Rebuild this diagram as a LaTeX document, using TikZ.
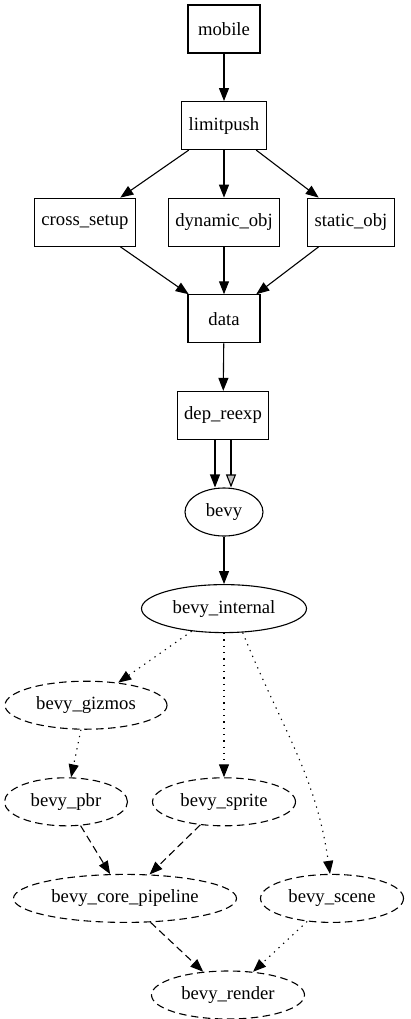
\documentclass[tikz,border=0pt]{standalone}
\usepackage{fontspec}
\setmainfont{Liberation Serif}
\usepackage{tikz}
\usetikzlibrary{shapes.geometric,arrows.meta,positioning}

\begin{document}
\begin{tikzpicture}[
  x=1pt,y=-1pt,
  font=\fontsize{18.67}{22}\selectfont,
  box/.style={draw,line width=1.1pt,minimum width=72pt,minimum height=48pt,inner xsep=7pt},
  crate/.style={draw,ellipse,line width=1.1pt,minimum height=48pt,inner xsep=0pt},
  optcrate/.style={crate,dash pattern=on 7.5pt off 4.5pt},
  arr/.style={line width=1.1pt,-{Triangle[length=13pt,width=10pt]}},
  arrre/.style={line width=1.1pt,-{Triangle[length=13pt,width=10pt,fill=lightgray]}},
  dep/.style={arr,dash pattern=on 7.5pt off 4.5pt},
  optdep/.style={arr,dash pattern=on 1.3pt off 5pt},
  node distance=47.5pt
]
\useasboundingbox (0,0) rectangle (410,1019);
\node[box] (mobile) at (224,29) {mobile};
\node[box,below=of mobile] (limitpush) {limitpush};
\node[box,below=of limitpush] (dynobj) {dynamic\_obj};
\node[box,below=of limitpush,xshift=-139pt] (cross) {cross\_setup};
\node[box,below=of limitpush,xshift=127pt] (statobj) {static\_obj};
\node[box,below=of dynobj] (data) {data};
\node[box,below=of data,xshift=-1pt] (reexp) {dep\_reexp};
\draw[arr] (mobile)--(limitpush);
\draw[arr] (limitpush)--(cross);
\draw[arr] (limitpush)--(dynobj);
\draw[arr] (limitpush)--(statobj);
\draw[arr] (cross)--(data);
\draw[arr] (dynobj)--(data);
\draw[arr] (statobj)--(data);
\draw[arr] (data)--(reexp);
\node[crate,minimum width=78pt,below=of reexp,xshift=1pt] (bevy) {bevy};
\node[crate,minimum width=165pt,below=of bevy] (internal) {bevy\_internal};
\draw[arr] ([xshift=-8pt]reexp.south)--([xshift=-9pt]bevy.north);
\draw[arrre] ([xshift=8pt]reexp.south)--([xshift=7pt]bevy.north);
\draw[arr] (bevy)--(internal);
\node[optcrate,minimum width=162pt,below=of internal,xshift=-138pt] (gizmos) {bevy\_gizmos};
\node[optcrate,minimum width=123pt,below=of gizmos,xshift=-20pt] (pbr) {bevy\_pbr};
\node[optcrate,minimum width=143pt,below=of gizmos,xshift=138pt] (sprite) {bevy\_sprite};
\node[optcrate,minimum width=223pt,below=of pbr,xshift=59pt] (core) {bevy\_core\_pipeline};
\node[optcrate,minimum width=143pt,below=of sprite,xshift=108pt] (scene) {bevy\_scene};
\node[optcrate,minimum width=153pt,below=of core,xshift=103pt] (render) {bevy\_render};
\draw[optdep] (internal)--(gizmos);
\draw[optdep] (internal)--(sprite);
\draw[optdep] (internal.-52) to[out=-68,in=98] ([xshift=-2pt]scene.north);
\draw[optdep] (gizmos)--(pbr);
\draw[dep] (pbr)--(core);
\draw[dep] (sprite)--(core);
\draw[dep] (core)--(render);
\draw[optdep] (scene)--(render);
\end{tikzpicture}
\end{document}
